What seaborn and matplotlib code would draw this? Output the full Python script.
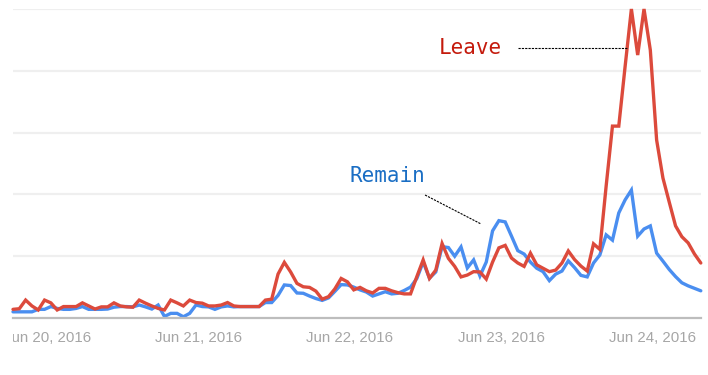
import numpy as np
import pandas as pd
import matplotlib
matplotlib.use("Agg")
import matplotlib.pyplot as plt
import seaborn as sns
from matplotlib.transforms import Bbox, TransformedBbox

# Hourly search interest (index 0 = first hour shown)
leave = [2.8, 3.0, 5.8, 3.9, 2.6, 5.8, 4.9, 2.6, 3.7, 3.7,
         3.7, 4.9, 3.9, 2.9, 3.6, 3.6, 4.9, 3.9, 3.6, 3.5,
         5.8, 4.8, 3.9, 3.1, 2.6, 5.8, 4.9, 3.9, 5.8, 5.0,
         4.8, 3.9, 3.9, 4.2, 5.0, 3.9, 3.7, 3.7, 3.7, 3.7,
         5.8, 6.1, 14.2, 18.0, 14.9, 11.2, 10.1, 9.9, 8.7, 6.1,
         6.9, 9.4, 12.8, 11.7, 9.1, 9.9, 8.8, 8.1, 9.6, 9.6,
         8.8, 8.2, 7.8, 7.8, 13.4, 18.8, 12.8, 15.5, 24.1, 19.3,
         16.7, 13.3, 13.9, 15.0, 14.9, 12.6, 18.1, 22.7, 23.5, 19.4,
         17.8, 16.7, 21.0, 17.2, 16.1, 15.0, 15.5, 17.8, 21.7, 18.9,
         16.8, 15.2, 24.0, 22.2, 42.7, 62.1, 62.1, 81.3, 100.0, 85.1,
         100.0, 86.7, 57.6, 45.3, 37.5, 29.8, 26.3, 24.3, 20.7, 17.8]

remain = [2.0, 2.0, 2.0, 2.0, 2.8, 2.8, 3.7, 3.1, 2.8, 2.8,
          3.1, 3.7, 2.8, 2.8, 2.8, 2.9, 3.5, 3.7, 3.7, 3.6,
          4.2, 3.6, 2.9, 4.2, 0.5, 1.5, 1.5, 0.4, 1.5, 4.2,
          3.7, 3.6, 2.8, 3.6, 3.9, 3.6, 3.7, 3.7, 3.7, 3.7,
          5.0, 5.0, 7.3, 10.7, 10.5, 8.1, 8.0, 7.1, 6.3, 5.7,
          6.5, 8.6, 10.8, 10.7, 10.0, 9.1, 8.4, 7.1, 7.8, 8.5,
          7.8, 8.0, 8.9, 10.0, 12.8, 18.1, 12.9, 14.9, 23.1, 22.8,
          20.0, 23.0, 16.2, 18.8, 13.6, 18.1, 28.2, 31.5, 31.1, 26.5,
          21.8, 20.7, 18.1, 16.1, 15.0, 12.1, 14.2, 15.2, 18.5, 16.3,
          13.8, 13.3, 17.8, 20.4, 26.9, 25.2, 34.0, 38.2, 41.4, 26.5,
          28.8, 29.8, 21.0, 18.4, 15.7, 13.4, 11.4, 10.4, 9.6, 8.8]

tick_labels = ["Jun 20, 2016", "Jun 21, 2016", "Jun 22, 2016",
               "Jun 23, 2016", "Jun 24, 2016"]
tick_hours = [5.4, 29.4, 53.4, 77.4, 101.4]

hours = np.arange(len(leave))
df = pd.concat([
    pd.DataFrame({"hour": hours, "interest": remain, "term": "Remain"}),
    pd.DataFrame({"hour": hours, "interest": leave, "term": "Leave"}),
])

sns.set_theme(style="white")
W, H = 708, 375
fig = plt.figure(figsize=(W / 100, H / 100), dpi=100)
ax = fig.add_axes([13 / W, (H - 318) / H, (700.8 - 13) / W, (318 - 9) / H])

palette = {"Remain": "#4a8ef0", "Leave": "#dc4a3c"}
sns.lineplot(data=df, x="hour", y="interest", hue="term", palette=palette,
             linewidth=2.4, ax=ax, legend=False)
for ln in ax.lines:
    ln.set_clip_on(False)
    ln.set_solid_joinstyle("miter")

ax.set_xlim(0, len(leave) - 1)
ax.set_ylim(0, 100)
ax.set_yticks([20, 40, 60, 80, 100])
ax.set_yticklabels([])
ax.tick_params(axis="y", length=0)
ax.grid(axis="y", color="#efefef", linewidth=1.6)
ax.grid(axis="x", visible=False)
ax.set_axisbelow(True)
for s in ["top", "right", "left"]:
    ax.spines[s].set_visible(False)
ax.spines["bottom"].set_color("#bdbdbd")
ax.spines["bottom"].set_linewidth(1.6)
ax.set_xlabel("")
ax.set_ylabel("")

ax.set_xticks(tick_hours)
ax.set_xticklabels(tick_labels, fontsize=10.8, color="#a6a6a6",
                   family=["Liberation Sans", "DejaVu Sans"])
ax.tick_params(axis="x", length=0, pad=9)
clip = TransformedBbox(Bbox([[13 / W, 0], [1, 1]]), fig.transFigure)
for t in ax.get_xticklabels():
    t.set_clip_on(True)
    t.set_clip_box(clip)

# Annotations
ax.text(72.5, 87.3, "Leave", color="#c41a0c", fontsize=15,
        family="DejaVu Sans Mono", ha="center", va="center")
ax.plot([80.0, 97.3], [87.5, 87.5], color="black", lw=0.8,
        ls=(0, (2, 1)), clip_on=False)
ax.text(59.3, 45.8, "Remain", color="#1a6ec4", fontsize=15,
        family="DejaVu Sans Mono", ha="center", va="center")
ax.plot([65.3, 74.2], [39.8, 30.4], color="black", lw=0.8,
        ls=(0, (2, 1)), clip_on=False)

fig.savefig("out.png", dpi=100)
